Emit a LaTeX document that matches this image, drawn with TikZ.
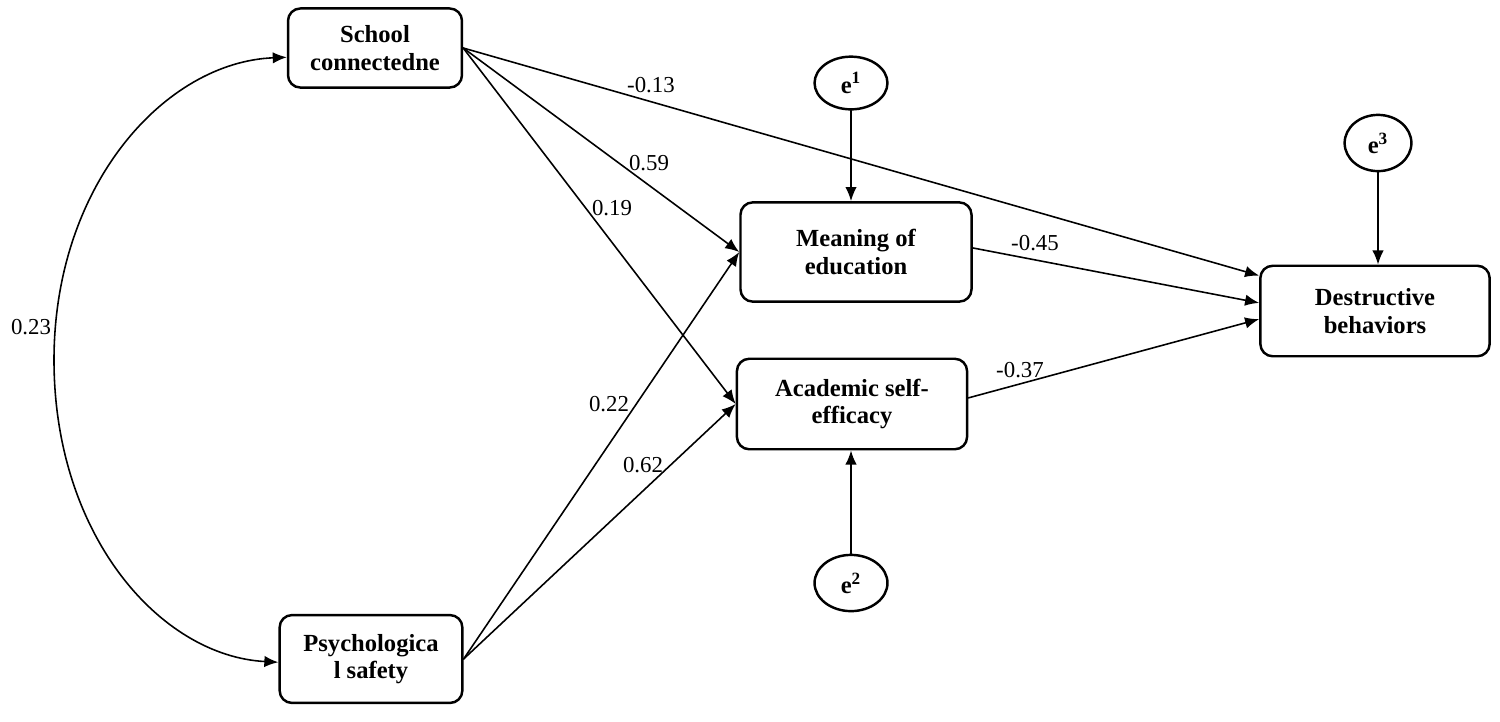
\documentclass[tikz,border=0pt]{standalone}
\usepackage{fontspec}
\setmainfont{Liberation Serif}
\usetikzlibrary{arrows.meta,shapes.geometric}
\begin{document}
\begin{tikzpicture}[x=0.02cm, y=-0.02cm, >={Latex[length=8pt,width=6.5pt]}, line cap=round, line join=round,
  var/.style={draw, line width=1.4pt, rounded corners=7pt, align=center, inner sep=0pt, font=\fontsize{14}{15.5}\selectfont\bfseries},
  err/.style={draw, ellipse, line width=1.4pt, inner sep=0pt, font=\fontsize{14}{16}\selectfont\bfseries},
  link/.style={->, line width=0.9pt},
  coef/.style={inner sep=1pt, font=\fontsize{13}{14}\selectfont}]
\useasboundingbox (0,0) rectangle (1500,721);
% variables
\node[var, minimum width=99pt, minimum height=45pt] (school) at (375,48) {School\\connectedne};
\node[var, minimum width=104pt, minimum height=50pt] (psych) at (371,659) {Psychologica\\l safety};
\node[var, minimum width=131.5pt, minimum height=56.5pt] (meaning) at (856,252) {Meaning of\\education};
\node[var, minimum width=131pt, minimum height=51.5pt] (academic) at (852,404) {Academic self-\\efficacy};
\node[var, minimum width=130.5pt, minimum height=51.5pt] (destr) at (1375,311) {Destructive\\behaviors};
% errors
\node[err, minimum width=41.5pt, minimum height=30pt] (e1) at (851,83) {e\textsuperscript{1}};
\node[err, minimum width=41.5pt, minimum height=32pt] (e2) at (851,583) {e\textsuperscript{2}};
\node[err, minimum width=38pt, minimum height=32pt] (e3) at (1378,143) {e\textsuperscript{3}};
% paths
\foreach \a/\b in {school.east/meaning.west, school.east/academic.west, school.east/destr.163,
                   psych.east/meaning.west, psych.east/academic.west,
                   meaning.2/destr.176, academic.3/destr.184}
  \draw[link] (\a) -- (\b);
\draw[link] (e1) -- (e1 |- meaning.north);
\draw[link] (e2) -- (e2 |- academic.south);
\draw[link] (e3) -- (e3 |- destr.north);
\draw[<->, line width=0.9pt] (school.186) .. controls (165,62) and (54,185) .. (54,360)
  .. controls (54,535) and (160,656) .. (psych.182);
% coefficients
\foreach \p/\i/\lbl in {(651,85)/1/-0.13, (649,163)/2/0.59, (612,208)/3/0.19, (609,404)/4/0.22,
                        (643,465)/5/0.62, (1035,243)/6/-0.45, (1020,370)/7/-0.37, (31,327)/8/0.23}
  \node[coef] (c\i) at \p {\lbl};
\end{tikzpicture}
\end{document}
